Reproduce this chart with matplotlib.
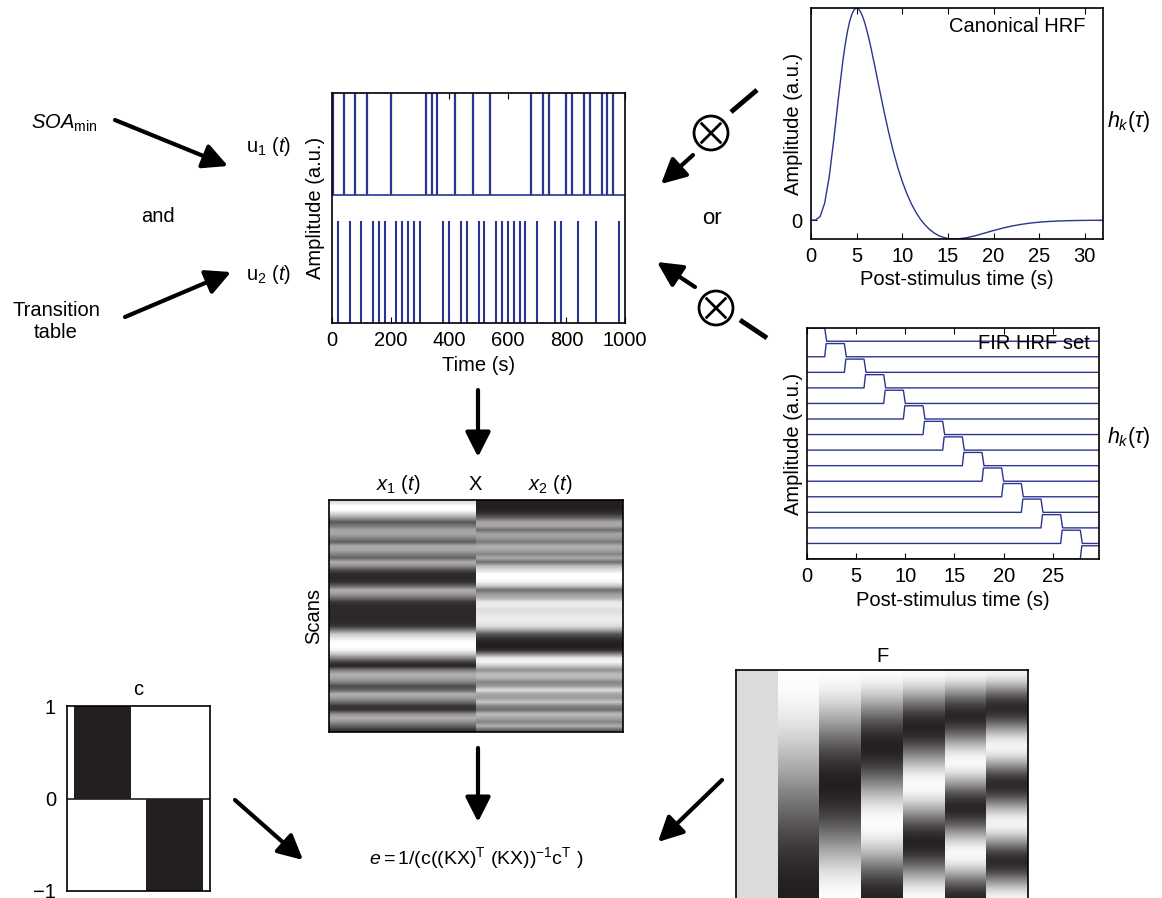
import numpy as np
import matplotlib
matplotlib.use('Agg')
import matplotlib.pyplot as plt
from matplotlib.colors import LinearSegmentedColormap
from matplotlib.patches import Circle

plt.rcParams['font.family'] = ['Liberation Sans', 'DejaVu Sans']
plt.rcParams['mathtext.fontset'] = 'custom'
plt.rcParams['mathtext.rm'] = 'Liberation Sans'
plt.rcParams['mathtext.it'] = 'Liberation Sans:italic'
plt.rcParams['font.size'] = 14.5
plt.rcParams['axes.linewidth'] = 1.2

# stimulus onsets (s)
u1_onsets = [2, 40, 80, 120, 200, 320, 340, 360, 420, 480, 540, 680, 720, 740,
             800, 820, 860, 880, 920, 940, 960]
u2_onsets = [20, 60, 100, 140, 160, 180, 220, 240, 260, 280, 300, 380, 400, 440,
             460, 500, 520, 560, 580, 600, 620, 640, 660, 700, 760, 780, 840,
             900, 980]

# canonical HRF (normalised to peak)
hrf_t = [0, 0.5, 1, 1.5, 2, 2.5, 3, 3.5, 3.75, 4, 4.25, 4.5, 4.75, 5, 5.25,
         5.5, 5.75, 6, 6.25, 6.5, 7, 7.5, 8, 8.5, 9, 9.5, 10, 10.5, 11, 11.5,
         12, 12.5, 13, 13.5, 14, 14.5, 15, 15.5, 16, 17, 18, 19, 20, 21, 22,
         23, 24, 25, 26, 27, 28, 29, 30, 31, 32]
hrf_v = [0, 0.0009, 0.0175, 0.0805, 0.2056, 0.3806, 0.5744, 0.7533, 0.8283,
         0.8906, 0.939, 0.9732, 0.9935, 1.0, 0.9935, 0.9763, 0.9495, 0.9143,
         0.873, 0.8268, 0.7245, 0.6182, 0.5134, 0.4160, 0.3274, 0.2494,
         0.1826, 0.1253, 0.0771, 0.0369, 0.0038, -0.0223, -0.0442, -0.0603,
         -0.0728, -0.0810, -0.0863, -0.0884, -0.0887, -0.0832, -0.0733,
         -0.0611, -0.0487, -0.0375, -0.0277, -0.0199, -0.0138, -0.0094,
         -0.0062, -0.0040, -0.0026, -0.0016, -0.0010, -0.0006, -0.0003]

# FIR bins (s)
fir_onsets = [0, 2, 4, 6, 8, 10, 12, 14, 16, 18, 20, 22, 24, 26, 28]
fir_width = 2

# design matrix X (0 = dark, 1 = white), one value per scan
x1_col = [0.85, 1.0, 1.0, 0.8, 0.55, 0.25, 0.4, 0.6, 0.6, 0.45, 0.28, 0.62,
          0.6, 0.45, 0.3, 0.65, 0.5, 0.2, 0.05, 0.05, 0.08, 0.3, 0.65, 0.55,
          0.35, 0.1, 0.05, 0.05, 0.05, 0.05, 0.05, 0.1, 0.4, 0.75, 0.9, 1.0,
          1.0, 0.95, 0.75, 0.45, 0.15, 0.02, 0.4, 0.65, 0.6, 0.45, 0.2, 0.3,
          0.65, 0.55, 0.35, 0.1, 0.1, 0.5, 0.65, 0.5, 0.3, 0.1]
x2_col = [0.0, 0.0, 0.02, 0.1, 0.3, 0.6, 0.6, 0.35, 0.6, 0.55, 0.4, 0.65,
          0.6, 0.45, 0.62, 0.35, 0.7, 0.85, 1.0, 1.0, 0.95, 0.75, 0.35, 0.55,
          0.65, 0.9, 0.92, 0.85, 0.88, 0.92, 0.9, 0.85, 0.6, 0.25, 0.1, 0.02,
          0.0, 0.05, 0.45, 0.9, 0.95, 0.75, 0.5, 0.7, 0.68, 0.45, 0.55, 0.85,
          0.6, 0.55, 0.75, 0.45, 0.35, 0.7, 0.6, 0.45, 0.65, 0.3]

# contrast c
c_vals = [1, -1]

# filter matrix F columns (-1 = dark, 1 = white)
f0 = [0.68] * 24
f1 = [1.00, 0.98, 0.95, 0.90, 0.83, 0.75, 0.66, 0.56, 0.44, 0.32, 0.20, 0.07,
      -0.07, -0.20, -0.32, -0.44, -0.56, -0.66, -0.75, -0.83, -0.90, -0.95,
      -0.98, -1.00]
f2 = [0.99, 0.92, 0.79, 0.61, 0.38, 0.13, -0.13, -0.38, -0.61, -0.79, -0.92,
      -0.99, -0.99, -0.92, -0.79, -0.61, -0.38, -0.13, 0.13, 0.38, 0.61, 0.79,
      0.92, 0.99]
f3 = [0.98, 0.83, 0.56, 0.20, -0.20, -0.56, -0.83, -0.98, -0.98, -0.83, -0.56,
      -0.20, 0.20, 0.56, 0.83, 0.98, 0.98, 0.83, 0.56, 0.20, -0.20, -0.56,
      -0.83, -0.98]
f4 = [0.97, 0.71, 0.26, -0.26, -0.71, -0.97, -0.97, -0.71, -0.26, 0.26, 0.71,
      0.97, 0.97, 0.71, 0.26, -0.26, -0.71, -0.97, -0.97, -0.71, -0.26, 0.26,
      0.71, 0.97]
f5 = [0.95, 0.56, -0.07, -0.66, -0.98, -0.90, -0.44, 0.20, 0.75, 1.00, 0.83,
      0.32, -0.32, -0.83, -1.00, -0.75, -0.20, 0.44, 0.90, 0.98, 0.66, 0.07,
      -0.56, -0.95]
f6 = [0.92, 0.38, -0.38, -0.92, -0.92, -0.38, 0.38, 0.92, 0.92, 0.38, -0.38,
      -0.92, -0.92, -0.38, 0.38, 0.92, 0.92, 0.38, -0.38, -0.92, -0.92, -0.38,
      0.38, 0.92]
F_cols = [f0, f1, f2, f3, f4, f5, f6]

blue = '#2b3590'
dark = '#231f20'
gcmap = LinearSegmentedColormap.from_list('g', [dark, '#ffffff'])

W, H = 1162, 898
fig = plt.figure(figsize=(W / 100, H / 100), dpi=100)


def box(l, t, r, b):
    return fig.add_axes([l / W, 1 - b / H, (r - l) / W, (b - t) / H])


# stimulus trains
ax = box(332, 93, 625, 323)
ax.vlines(u2_onsets, 0, 1, color=blue, lw=1.5)
ax.vlines(u1_onsets, 1.25, 2.25, color=blue, lw=1.6)
ax.axhline(1.25, color=blue, lw=1.2)
ax.set_xlim(0, 1000)
ax.set_ylim(0, 2.25)
ax.set_xticks([0, 200, 400, 600, 800, 1000])
ax.set_yticks([])
ax.tick_params(axis='x', direction='in', top=True, length=4, pad=6)
ax.set_xlabel('Time (s)', labelpad=4)
ax.set_ylabel('Amplitude (a.u.)', labelpad=5)

# canonical HRF
ax = box(811, 8, 1103, 239)
ax.plot(hrf_t, hrf_v, color=blue, lw=1)
ax.set_xlim(0, 32)
ax.set_ylim(min(hrf_v), max(hrf_v))
ax.set_xticks([0, 5, 10, 15, 20, 25, 30])
ax.set_yticks([0])
ax.tick_params(direction='in', top=True, right=True, length=4, pad=6)
ax.set_xlabel('Post-stimulus time (s)', labelpad=3)
ax.set_ylabel('Amplitude (a.u.)', labelpad=-8)
ax.text(0.94, 0.92, 'Canonical HRF', transform=ax.transAxes, ha='right',
        va='center', fontsize=14.5)

# FIR basis set
ax = box(807, 328, 1099, 559)
n_fir = len(fir_onsets)
for k, on in enumerate(fir_onsets):
    base = n_fir - 1 - k
    xs = [0, on - 0.2, on - 0.05, on + fir_width - 0.2, on + fir_width, 30]
    ys = [base, base, base + 0.85, base + 0.85, base, base]
    ax.plot(xs, ys, color=blue, lw=1)
ax.set_xlim(0, 29.7)
ax.set_ylim(0, n_fir - 1 + 0.85)
ax.set_xticks([0, 5, 10, 15, 20, 25])
ax.set_yticks([])
ax.tick_params(direction='in', top=True, length=4, pad=6)
ax.set_xlabel('Post-stimulus time (s)', labelpad=3)
ax.set_ylabel('Amplitude (a.u.)', labelpad=3)
ax.text(0.97, 0.935, 'FIR HRF set', transform=ax.transAxes, ha='right',
        va='center', fontsize=14.5)

# design matrix X
ax = box(329, 500, 623, 732)
n_scan = len(x1_col)
for j, col in enumerate([x1_col, x2_col]):
    ax.imshow(np.array(col)[:, None], extent=(j, j + 1, n_scan, 0),
              aspect='auto', cmap=gcmap, vmin=0, vmax=1,
              interpolation='bilinear')
ax.set_xlim(0, 2)
ax.set_ylim(n_scan, 0)
ax.set_xticks([])
ax.set_yticks([])
ax.set_ylabel('Scans', labelpad=4)

# contrast c
ax = box(67, 706, 210, 891)
ax.bar([1, 2], c_vals, width=0.8, color=dark)
ax.axhline(0, color=dark, lw=1.2)
ax.set_xlim(0.5, 2.5)
ax.set_ylim(-1, 1)
ax.set_xticks([])
ax.set_yticks([-1, 0, 1])
ax.set_yticklabels(['\u22121', '0', '1'])
ax.tick_params(length=0, pad=8)
ax.set_title('c', fontsize=14.5, pad=8)

# filter matrix F
ax = box(736, 670, 1028, 900)
n_f = len(f1)
for j, col in enumerate(F_cols):
    ax.imshow(np.array(col)[:, None], extent=(j, j + 1, n_f, 0),
              aspect='auto', cmap=gcmap, vmin=-1, vmax=1,
              interpolation='bicubic')
ax.set_xlim(0, len(F_cols))
ax.set_ylim(n_f, 0)
ax.set_xticks([])
ax.set_yticks([])
ax.set_title('F', fontsize=14.5, pad=6)

# overlay for arrows and annotations (pixel coordinates)
ov = fig.add_axes([0, 0, 1, 1], zorder=10)
ov.set_xlim(0, W)
ov.set_ylim(H, 0)
ov.axis('off')
ov.patch.set_alpha(0)


def arrow(x0, y0, x1, y1):
    ov.annotate('', xy=(x1, y1), xytext=(x0, y0),
                arrowprops=dict(arrowstyle='-|>,head_length=0.75,head_width=0.38',
                                lw=3, color='black', shrinkA=0, shrinkB=0,
                                mutation_scale=20))


def otimes(cx, cy, r=17):
    ov.add_patch(Circle((cx, cy), r, fill=False, lw=2, ec='black'))
    d = r * 0.55
    ov.plot([cx - d, cx + d], [cy - d, cy + d], color='black', lw=2)
    ov.plot([cx - d, cx + d], [cy + d, cy - d], color='black', lw=2)


arrow(115, 120, 228, 166)
arrow(125, 317, 231, 272)

ov.plot([757, 731], [90, 112], color='black', lw=3.5, solid_capstyle='butt')
otimes(711, 133)
arrow(693, 155, 661, 184)

arrow(695, 287, 657, 262)
otimes(716, 308)
ov.plot([740, 767], [320, 338], color='black', lw=3.5, solid_capstyle='butt')

arrow(478, 390, 478, 457)
arrow(478, 748, 478, 822)
arrow(235, 800, 303, 860)
arrow(722, 780, 658, 842)

ov.text(64, 123, r'$\mathit{SOA}_\mathrm{min}$', ha='center', va='center', fontsize=14.5)
ov.text(246, 146, r'$\mathrm{u}_1\ (\mathit{t})$', ha='left', va='center', fontsize=14.5)
ov.text(246, 274, r'$\mathrm{u}_2\ (\mathit{t})$', ha='left', va='center', fontsize=14.5)
ov.text(158, 216, 'and', ha='center', va='center', fontsize=14.5)
ov.text(56, 322, 'Transition\ntable', ha='center', va='center', fontsize=14.5,
        linespacing=1.2)
ov.text(712, 218, 'or', ha='center', va='center', fontsize=16)
ov.text(1107, 122, r'$\mathit{h}_\mathit{k}(\tau)$', ha='left', va='center', fontsize=15.5)
ov.text(1107, 438, r'$\mathit{h}_\mathit{k}(\tau)$', ha='left', va='center', fontsize=15.5)
ov.text(398, 485, r'$\mathit{x}_1\ (\mathit{t})$', ha='center', va='center', fontsize=14.5)
ov.text(475, 485, 'X', ha='center', va='center', fontsize=14.5)
ov.text(550, 485, r'$\mathit{x}_2\ (\mathit{t})$', ha='center', va='center', fontsize=14.5)
ov.text(476, 858, r'$\mathit{e} = 1/(\mathrm{c}((\mathrm{KX})^\mathrm{T}\ (\mathrm{KX}))^{-1}\mathrm{c}^\mathrm{T}\ )$',
        ha='center', va='center', fontsize=14)

fig.savefig('out.png', dpi=100)
